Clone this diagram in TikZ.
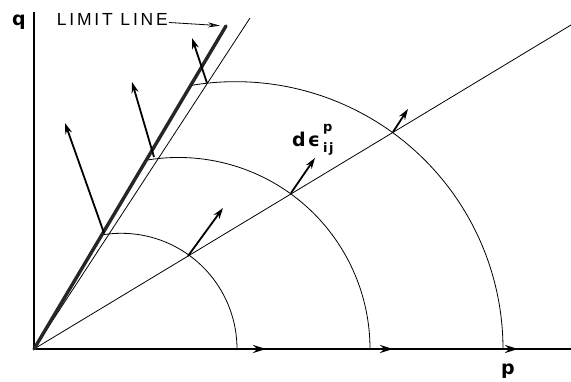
\documentclass[tikz,border=0pt]{standalone}
\usepackage{fontspec}
\usepackage{tikz}
\usetikzlibrary{arrows.meta}
\newfontfamily\lblfont{DejaVu Sans}
\newfontfamily\capfont[LetterSpace=16]{Liberation Sans}

\begin{document}
\begin{tikzpicture}[x=1pt,y=1pt,>=Stealth,
    thinline/.style={line width=0.8pt},
    axisline/.style={line width=1.6pt},
    limitline/.style={line width=3.4pt,black!85,line cap=round},
    strain/.style={->,line width=1.8pt,>={Stealth[length=11pt,width=7pt]}},
    axisvec/.style={->,line width=2.4pt,>={Stealth[length=13pt,width=8pt,fill=black!45]}},
    lbl/.style={font=\fontsize{19}{22}\selectfont\lblfont\bfseries,inner sep=0pt}]
	\useasboundingbox (-34,-32) rectangle (537,349);
	
	% Axes
	\coordinate (O) at (0,0);
	\draw[axisline] (0,337) -- (O) -- (537,0);
	\node[lbl] (qlab) at (-15,327) {q};
	\node[lbl] (plab) at (474,-22) {p};
	
	% Radial stress paths
	\draw[thinline] (O) -- (216,331);
	\draw[thinline] (O) -- (537,324);
	
	% Yield surfaces
	\foreach \P in {203,336,469}
		\draw[thinline] (\P,0) arc[start angle=0,end angle=100,radius={0.57*\P*1pt}];
	
	% Limit line
	\coordinate (Ltop) at (192,323);
	\draw[limitline] (O) -- (Ltop);
	\node[font=\fontsize{17.5}{20}\selectfont\capfont,inner sep=1pt,anchor=east] (lim) at (135,330) {LIMIT LINE};
	\draw[->,thinline,>={Stealth[length=12pt,width=5pt,fill=black!40]},shorten >=6pt] (lim) -- (Ltop);
	
	% Plastic strain increments
	\draw[strain] (70,116) -- (31,226);
	\draw[strain] (120,192) -- (98,267);
	\draw[strain] (173,266) -- (158,311);
	\draw[strain] (154,93) -- (189,141);
	\draw[strain] (257,156) -- (281,191);
	\draw[strain] (359,217) -- (374,240);
	\draw[axisvec] (203,0) -- (232,0);
	\draw[axisvec] (336,0) -- (359,0);
	\draw[axisvec] (469,0) -- (484,0);
	\node[lbl,anchor=base west] (deps) at (258,202)
		{d\kern2pt ϵ\kern3pt\rlap{\raisebox{15pt}{\fontsize{13}{15}\selectfont p}}\raisebox{-6pt}{\fontsize{13}{15}\selectfont i\kern1.5pt j}};
\end{tikzpicture}
\end{document}
